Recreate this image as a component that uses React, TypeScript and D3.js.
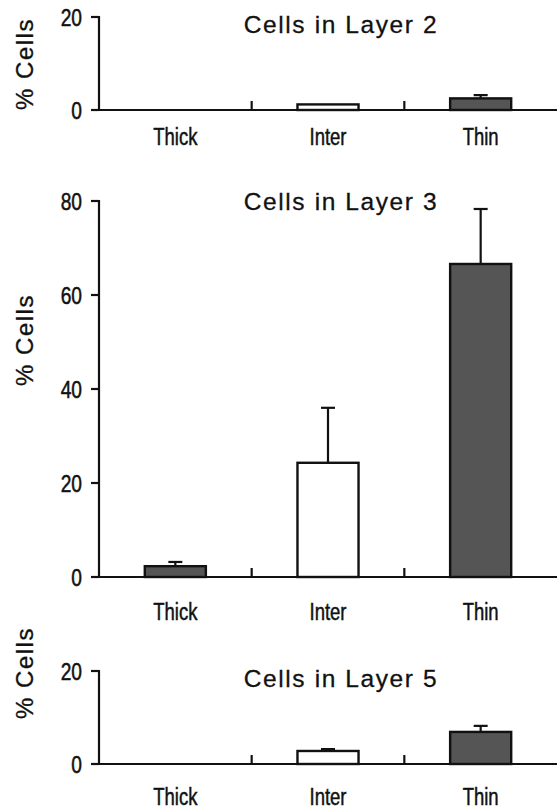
import * as d3 from "d3";

const categories = ["Thick", "Inter", "Thin"];
const barFills = ["#555", "#fff", "#555"];

const layer2Means = [0, 1.2, 2.5];
const layer2Errors = [0, 0, 0.7];
const layer3Means = [2.3, 24.3, 66.6];
const layer3Errors = [0.9, 11.7, 11.7];
const layer5Means = [0, 2.8, 6.9];
const layer5Errors = [0, 0.4, 1.3];

const yTicks2 = [0, 20];
const yTicks3 = [0, 20, 40, 60, 80];
const yTicks5 = [0, 20];

const W = 560;
const H = 810;
const axisLeft = 99;
const axisRight = 557;

const panels = [
  { title: "Cells in Layer 2", means: layer2Means, errors: layer2Errors, ticks: yTicks2, top: 17, zero: 110, titleY: 33, labelY: 145, yLabelY: 64 },
  { title: "Cells in Layer 3", means: layer3Means, errors: layer3Errors, ticks: yTicks3, top: 201, zero: 577, titleY: 210, labelY: 620, yLabelY: 340 },
  { title: "Cells in Layer 5", means: layer5Means, errors: layer5Errors, ticks: yTicks5, top: 671, zero: 764, titleY: 687, labelY: 805, yLabelY: 673 },
];

const font = "Liberation Sans, Arial, sans-serif";
const ink = "#111";

function Panel({ p }: { p: (typeof panels)[number] }) {
  const x = d3.scaleBand<string>().domain(categories).range([axisLeft, axisRight]).padding(0);
  const y = d3.scaleLinear().domain([0, d3.max(p.ticks) as number]).range([p.zero, p.top]);
  const bw = x.bandwidth() * 0.4;
  const capW = 14;
  return (
    <g>
      <text x={341} y={p.titleY} textAnchor="middle" fontFamily={font} fontSize={24.5} letterSpacing={1.6} fill={ink} stroke={ink} strokeWidth={0.3}>
        {p.title}
      </text>
      <text transform={`translate(33,${p.yLabelY}) rotate(-90)`} textAnchor="middle" fontFamily={font} fontSize={24} letterSpacing={1.5} fill={ink} stroke={ink} strokeWidth={0.3}>
        % Cells
      </text>
      {/* bars */}
      {categories.map((c, i) => {
        const m = p.means[i];
        if (!m) return null;
        const cx = (x(c) as number) + x.bandwidth() / 2;
        const e = p.errors[i];
        return (
          <g key={c}>
            {e > 0 && (
              <g stroke={ink} strokeWidth={2.2}>
                <line x1={cx} x2={cx} y1={y(m)} y2={y(m + e)} />
                <line x1={cx - capW / 2} x2={cx + capW / 2} y1={y(m + e)} y2={y(m + e)} />
              </g>
            )}
            <rect x={cx - bw / 2} y={y(m)} width={bw} height={y(0) - y(m)} fill={barFills[i]} stroke={ink} strokeWidth={2.4} />
          </g>
        );
      })}
      {/* y axis */}
      <line x1={axisLeft} x2={axisLeft} y1={y(d3.max(p.ticks) as number) - 1} y2={y(0) + 1} stroke={ink} strokeWidth={2.2} />
      {p.ticks.map((t) => (
        <g key={t}>
          <line x1={axisLeft - 8} x2={axisLeft} y1={y(t)} y2={y(t)} stroke={ink} strokeWidth={2.2} />
          <text transform={`translate(82,${y(t) + 8.5}) scale(0.8,1)`} textAnchor="end" fontFamily={font} fontSize={24} fill={ink} stroke={ink} strokeWidth={0.5}>
            {t}
          </text>
        </g>
      ))}
      {/* x axis */}
      <line x1={axisLeft - 8} x2={axisRight} y1={y(0)} y2={y(0)} stroke={ink} strokeWidth={2.2} />
      {[1, 2].map((i) => (
        <line key={i} x1={axisLeft + x.step() * i} x2={axisLeft + x.step() * i} y1={y(0)} y2={y(0) - 9} stroke={ink} strokeWidth={2.2} />
      ))}
      {categories.map((c) => (
        <text key={c} transform={`translate(${(x(c) as number) + x.bandwidth() / 2},${p.labelY}) scale(0.77,1)`} textAnchor="middle" fontFamily={font} fontSize={24} fill={ink} stroke={ink} strokeWidth={0.5}>
          {c}
        </text>
      ))}
    </g>
  );
}

export default function App() {
  return (
    <svg width={W} height={H} style={{ position: "absolute", left: 0, top: 0, background: "#fff" }}>
      {panels.map((p) => (
        <Panel key={p.title} p={p} />
      ))}
    </svg>
  );
}
